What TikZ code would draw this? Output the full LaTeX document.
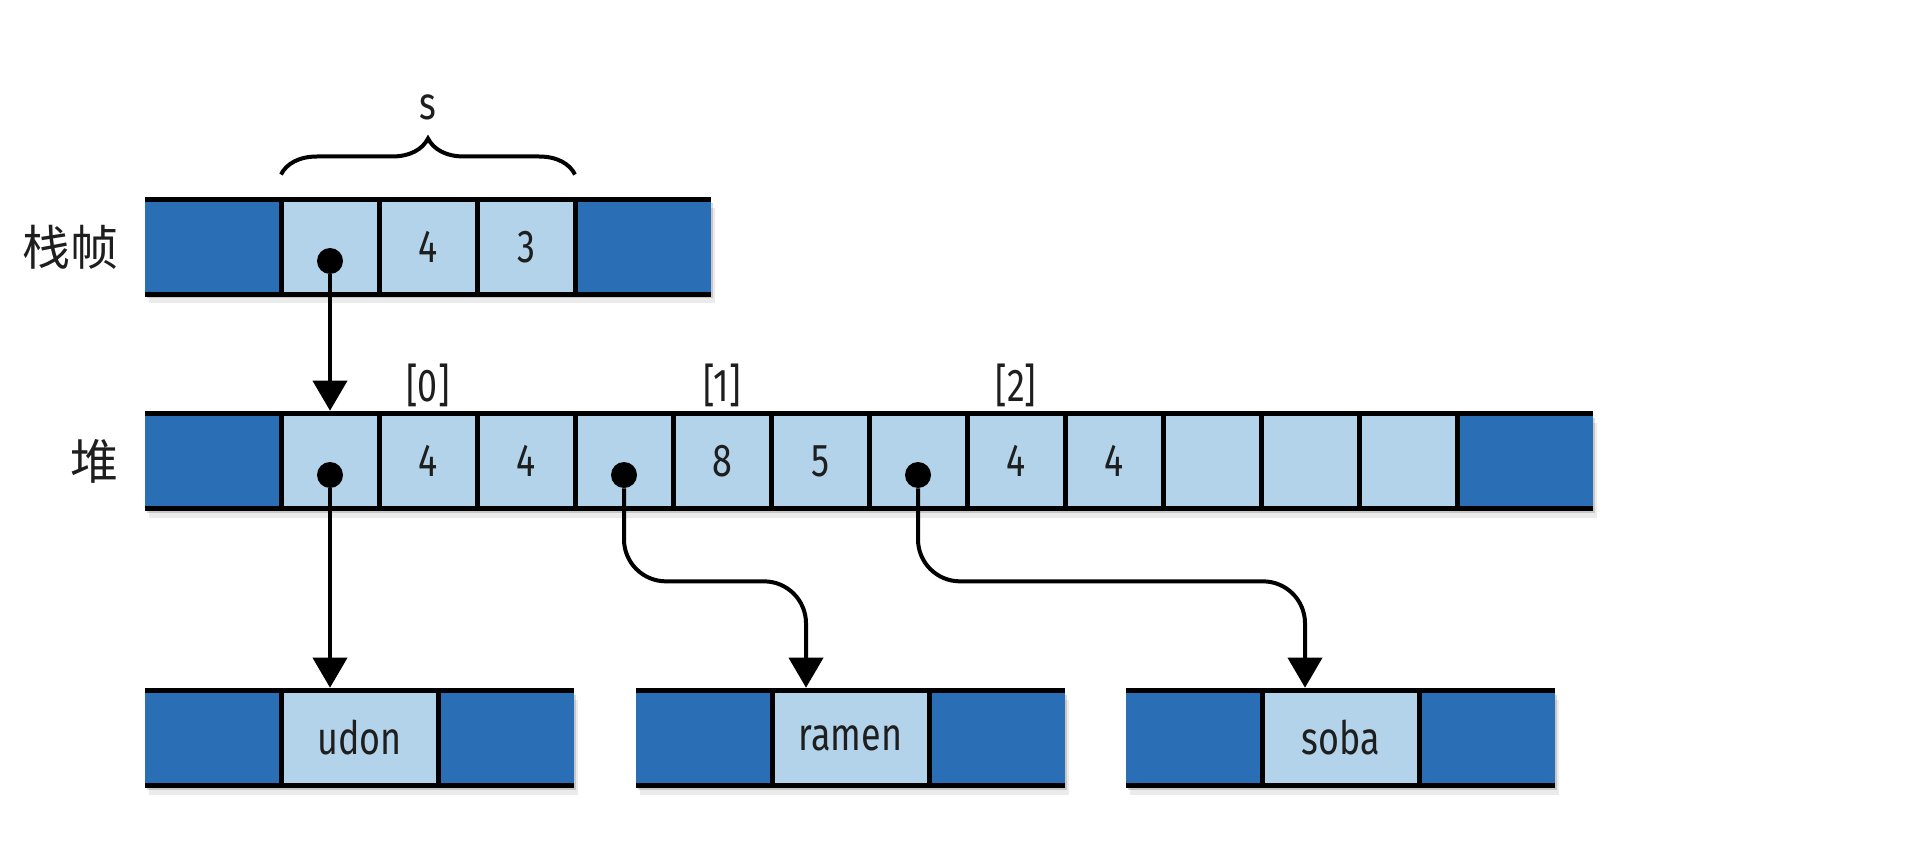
\documentclass[tikz,border=0pt]{standalone}
\usepackage{fontspec}
\setmainfont[FakeStretch=0.78]{Fira Sans}
\newfontfamily\cjk{Noto Sans CJK SC}
\usetikzlibrary{arrows.meta, positioning, decorations.pathreplacing, calc, backgrounds, shadows}

\definecolor{memdark}{RGB}{42,110,181}
\definecolor{memlight}{RGB}{179,211,234}
\definecolor{memink}{RGB}{30,30,30}

\begin{document}
\begin{tikzpicture}[
    font=\fontsize{23}{27}\selectfont,
    cell/.style={shape=rectangle, inner sep=0pt, outer sep=0pt, minimum height=47.5pt, text=memink},
    darkcell/.style={cell, fill=memdark, minimum width=68pt},
    slot/.style={cell, fill=memlight, draw=black, line width=2.5pt, minimum width=49pt},
    strslot/.style={cell, fill=memlight, draw=black, line width=2.5pt, minimum width=78.5pt},
    dot/.style={shape=circle, fill=black, inner sep=0pt, minimum size=13pt},
    ptr/.style={line width=2pt, -{Triangle[length=15pt, width=17pt]}},
    rim/.style={line width=2.75pt},
    sep/.style={line width=2.5pt},
    rowshade/.style={
        drop shadow={shadow xshift=1pt, shadow yshift=-2pt, opacity=0.15, fill=black},
        drop shadow={shadow xshift=2pt, shadow yshift=-4.5pt, opacity=0.08, fill=black}},
    index/.style={inner sep=0pt, text=memink},
    rowlabel/.style={inner sep=0pt, text=memink, font=\cjk\fontsize{24}{28}\selectfont},
    node distance=0pt,
]
\useasboundingbox (0,0) rectangle (966pt, 421pt);

% stack frame
\node[darkcell, anchor=west] (s0) at (72.5pt, 297.5pt) {};
\node[slot, right=of s0] (s1) {};
\node[slot, right=of s1] (s2) {4};
\node[slot, right=of s2] (s3) {3};
\node[darkcell, right=of s3] (s4) {};
\draw[sep] (s1.north west) rectangle (s3.south east);
\draw[rim] (s0.north west) -- (s4.north east) (s0.south west) -- (s4.south east);

% heap
\node[darkcell, anchor=west] (h0) at (72.5pt, 190.5pt) {};
\node[slot, right=of h0] (h1) {};
\node[slot, right=of h1] (h2) {4};
\node[slot, right=of h2] (h3) {4};
\node[slot, right=of h3] (h4) {};
\node[slot, right=of h4] (h5) {8};
\node[slot, right=of h5] (h6) {5};
\node[slot, right=of h6] (h7) {};
\node[slot, right=of h7] (h8) {4};
\node[slot, right=of h8] (h9) {4};
\node[slot, right=of h9] (h10) {};
\node[slot, right=of h10] (h11) {};
\node[slot, right=of h11] (h12) {};
\node[darkcell, right=of h12] (h13) {};
\draw[sep] (h1.north west) rectangle (h12.south east);
\draw[rim] (h0.north west) -- (h13.north east) (h0.south west) -- (h13.south east);

% strings
\node[darkcell, anchor=west] (u0) at (72.5pt, 52pt) {};
\node[strslot, right=of u0] (u1) {udon};
\node[darkcell, right=of u1] (u2) {};
\node[darkcell, anchor=west] (r0) at (318pt, 52pt) {};
\node[strslot, right=of r0] (r1) {ramen};
\node[darkcell, right=of r1] (r2) {};
\node[darkcell, anchor=west] (b0) at (563pt, 52pt) {};
\node[strslot, right=of b0] (b1) {soba};
\node[darkcell, right=of b1] (b2) {};
\draw[sep] (u1.north west) rectangle (u1.south east);
\draw[sep] (r1.north west) rectangle (r1.south east);
\draw[sep] (b1.north west) rectangle (b1.south east);
\draw[rim] (u0.north west) -- (u2.north east) (u0.south west) -- (u2.south east);
\draw[rim] (r0.north west) -- (r2.north east) (r0.south west) -- (r2.south east);
\draw[rim] (b0.north west) -- (b2.north east) (b0.south west) -- (b2.south east);

\begin{scope}[on background layer]
\path[rowshade] (s0.south west) rectangle (s4.north east);
\path[rowshade] (h0.south west) rectangle (h13.north east);
\path[rowshade] (u0.south west) rectangle (u2.north east);
\path[rowshade] (r0.south west) rectangle (r2.north east);
\path[rowshade] (b0.south west) rectangle (b2.north east);
\end{scope}

% labels
\node[rowlabel, left=13pt of s0] (stacklbl) {栈帧};
\node[rowlabel, left=13pt of h0] (heaplbl) {堆};
\node[index, above=3pt of h2] (i0) {[0]};
\node[index, above=3pt of h5] (i1) {[1]};
\node[index, above=3pt of h8] (i2) {[2]};
\draw[line width=2pt, decorate, decoration={brace, amplitude=18pt}]
    ([yshift=12.5pt]s1.north west) -- ([yshift=12.5pt]s3.north east)
    node[index, midway, above=26pt] (slbl) {s};

% pointers
\node[dot] (sd) at ([yshift=-7pt]s1.center) {};
\node[dot] (hd1) at ([yshift=-7pt]h1.center) {};
\node[dot] (hd2) at ([yshift=-7pt]h4.center) {};
\node[dot] (hd3) at ([yshift=-7pt]h7.center) {};
\coordinate (ht) at ([yshift=1.4pt]h1.north);
\coordinate (ut) at ([yshift=1.4pt]hd1 |- u1.north);
\coordinate (rt) at ([xshift=17pt, yshift=1.4pt]r1.north west);
\coordinate (bt) at ([xshift=21.5pt, yshift=1.4pt]b1.north west);

\draw[ptr] (sd) -- (ht);
\draw[ptr] (hd1) -- (ut);
\draw[ptr, rounded corners=21pt] (hd2) |- ($(hd2)!.5!(rt)$) -| (rt);
\draw[ptr, rounded corners=21pt] (hd3) |- ($(hd3)!.5!(bt)$) -| (bt);
\end{tikzpicture}
\end{document}
